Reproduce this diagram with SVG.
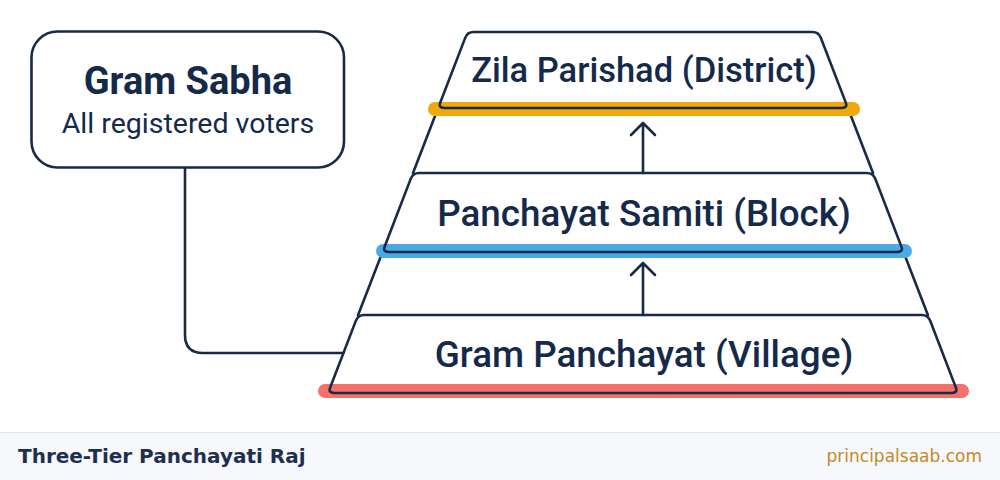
<svg xmlns="http://www.w3.org/2000/svg" width="1000" height="480" viewBox="0 0 1000 480">
<style>
.ol{fill:none;stroke:#172a47;stroke-width:2.6;stroke-linejoin:round;stroke-linecap:round}
.band{fill:none;stroke-width:14;stroke-linecap:round}
.tier{font-family:Roboto,"Liberation Sans",sans-serif;font-weight:500;fill:#15294a;text-anchor:middle}
</style>
<rect width="1000" height="480" fill="#ffffff"/>
<g id="connectors">
<path class="ol" d="M185,168 V335 Q185,353 203,353 H343.5"/>
<path class="ol" d="M438.1,108 L413,173 M847.9,108 L873,173 M382.5,252 L358.1,315 M903.5,252 L927.9,315"/>
<path class="ol" d="M643,173 V123 M631,135 L643,123 L655,135"/>
<path class="ol" d="M643,315 V263 M631,275 L643,263 L655,275"/>
</g>
<g id="gram-sabha">
<rect class="ol" x="31.5" y="31.5" width="312.5" height="136" rx="26" fill="#ffffff"/>
<text x="188" y="94" font-family="Roboto,'Liberation Sans',sans-serif" font-weight="700" font-size="38" fill="#15294a" text-anchor="middle">Gram Sabha</text>
<text x="188" y="133" font-family="Roboto,'Liberation Sans',sans-serif" font-size="28.5" fill="#15294a" text-anchor="middle">All registered voters</text>
</g>
<g id="zila-parishad">
<line class="band" x1="435" y1="109" x2="853" y2="109" stroke="#f0a80c"/>
<path class="ol" d="M473.5,32 H812.5 Q818.5,32 820.7,37.6 L845.7,102.4 Q847.9,108 841.9,108 H444.1 Q438.1,108 440.3,102.4 L465.3,37.6 Q467.5,32 473.5,32 Z"/>
<text class="tier" x="644" y="82" font-size="34.5">Zila Parishad (District)</text>
</g>
<g id="panchayat-samiti">
<line class="band" x1="383" y1="251" x2="905" y2="251" stroke="#4aaae6"/>
<path class="ol" d="M419,173 H867 Q873,173 875.2,178.6 L901.3,246.4 Q903.5,252 897.5,252 H388.5 Q382.5,252 384.7,246.4 L410.8,178.6 Q413,173 419,173 Z"/>
<text class="tier" x="644" y="226" font-size="36.8">Panchayat Samiti (Block)</text>
</g>
<g id="gram-panchayat">
<line class="band" x1="325" y1="391" x2="962" y2="391" stroke="#f4716b"/>
<path class="ol" d="M364.1,315 H921.9 Q927.9,315 930.1,320.6 L955.8,387.4 Q958,393 952,393 H334 Q328,393 330.2,387.4 L355.9,320.6 Q358.1,315 364.1,315 Z"/>
<text class="tier" x="644" y="367" font-size="36.8">Gram Panchayat (Village)</text>
</g>
<g id="footer">
<rect x="0" y="432" width="1000" height="48" fill="#f6f8fb"/>
<line x1="0" y1="432.5" x2="1000" y2="432.5" stroke="#e2e7ee" stroke-width="1"/>
<text x="18" y="463" font-family="'DejaVu Sans',sans-serif" font-weight="700" font-size="20" fill="#1e2f4f">Three-Tier Panchayati Raj</text>
<text x="982" y="462" font-family="'DejaVu Sans',sans-serif" font-size="17" fill="#c58a1c" text-anchor="end">principalsaab.com</text>
</g>
</svg>
